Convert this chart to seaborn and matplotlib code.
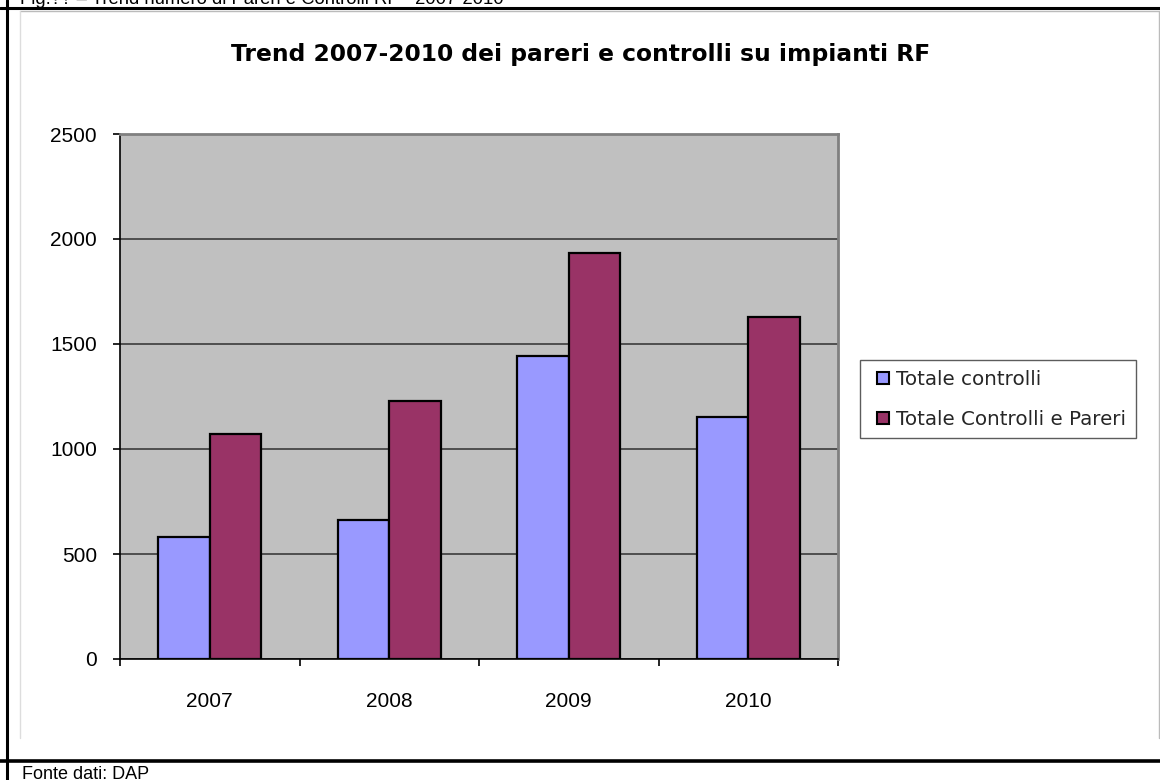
import matplotlib
matplotlib.use("Agg")
import matplotlib.pyplot as plt
import seaborn as sns
import pandas as pd
from matplotlib.lines import Line2D

years = ["2007", "2008", "2009", "2010"]
series_names = ["Totale controlli", "Totale Controlli e Pareri"]
totale_controlli = [580, 662, 1443, 1151]
totale_controlli_pareri = [1070, 1230, 1932, 1630]
y_ticks = [0, 500, 1000, 1500, 2000, 2500]
title = "Trend 2007-2010 dei pareri e controlli su impianti RF"
caption_top = "Fig.?? \u2013 Trend numero di Pareri e Controlli RF - 2007-2010"
caption_bottom = "Fonte dati: DAP"
colors = ["#9999FF", "#993366"]

df = pd.DataFrame({
    "Anno": years * 2,
    "Serie": [series_names[0]] * 4 + [series_names[1]] * 4,
    "Valore": totale_controlli + totale_controlli_pareri,
})

sns.set_theme(style="white")
plt.rcParams["font.family"] = ["Liberation Sans", "DejaVu Sans"]

W, H = 1160, 780
fig = plt.figure(figsize=(11.6, 7.8), dpi=100)
fig.patch.set_facecolor("white")

def fx(px):
    return px / W

def fy(py):
    return 1 - py / H

ax = fig.add_axes([fx(120), fy(659), fx(838) - fx(120), fy(134) - fy(659)])
ax.set_facecolor("#C0C0C0")

sns.barplot(data=df, x="Anno", y="Valore", hue="Serie", palette=colors,
            order=years, hue_order=series_names, width=0.572, gap=0,
            saturation=1, edgecolor="black", linewidth=1.6, ax=ax,
            legend=False, zorder=3)

ax.set_ylim(0, 2500)
ax.set_xlim(-0.5, 3.5)
ax.set_yticks(y_ticks)
ax.set_yticklabels([str(v) for v in y_ticks], fontsize=15, color="black")
ax.set_xticks(range(len(years)))
ax.set_xticklabels(years, fontsize=15, color="black")
ax.set_xlabel("")
ax.set_ylabel("")
ax.grid(axis="y", color="#303030", linewidth=1.1, zorder=1)
ax.set_axisbelow(True)
for s in ["top", "right"]:
    ax.spines[s].set_color("#808080")
    ax.spines[s].set_linewidth(2)
for s in ["left", "bottom"]:
    ax.spines[s].set_color("black")
    ax.spines[s].set_linewidth(1.2)
ax.tick_params(axis="y", which="major", length=5, width=1.2, color="black",
               left=True, pad=11.5)
ax.tick_params(axis="x", which="major", length=0, pad=24)
ax.set_xticks([-0.5, 0.5, 1.5, 2.5, 3.5], minor=True)
ax.tick_params(axis="x", which="minor", length=5, width=1.2, color="black",
               bottom=True, direction="out")

fig.text(fx(581), fy(55), title, ha="center", va="center", fontsize=16.8,
         fontweight="bold", color="black", family="DejaVu Sans")

handles = [Line2D([0], [0], marker="s", linestyle="none", markersize=8.2,
                  markerfacecolor=c, markeredgecolor="black",
                  markeredgewidth=1.5) for c in colors]
leg = fig.legend(handles, series_names, loc="upper left",
                 bbox_to_anchor=(fx(860), fy(360)), bbox_transform=fig.transFigure,
                 prop={"family": "DejaVu Sans", "size": 14.3}, frameon=True,
                 fancybox=False, handlelength=1.35, handletextpad=0.0,
                 borderpad=0.48, labelspacing=1.06, borderaxespad=0)
leg.get_frame().set_edgecolor("#333333")
leg.get_frame().set_linewidth(1.0)

fig.add_artist(Line2D([fx(0), fx(W)], [fy(8), fy(8)], color="black", linewidth=2.2))
fig.add_artist(Line2D([fx(7), fx(7)], [fy(0), fy(H)], color="black", linewidth=2.2))
fig.add_artist(Line2D([fx(0), fx(W)], [fy(761), fy(761)], color="black", linewidth=2.6))
fig.add_artist(Line2D([fx(20), fx(1159)], [fy(11), fy(11)], color="#BBBBBB", linewidth=1))
fig.add_artist(Line2D([fx(1159), fx(1159)], [fy(11), fy(738)], color="#BBBBBB", linewidth=1))
fig.add_artist(Line2D([fx(20), fx(20)], [fy(11), fy(738)], color="#DDDDDD", linewidth=1))

fig.text(fx(20), fy(4), caption_top, ha="left", va="baseline", fontsize=13.3, color="black")
fig.text(fx(22), fy(779), caption_bottom, ha="left", va="baseline", fontsize=13, color="black")

fig.savefig("out.png", dpi=100)
